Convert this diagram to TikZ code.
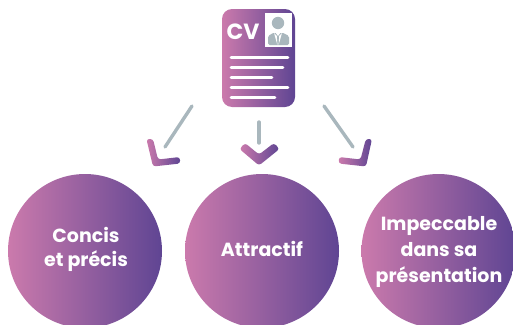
\documentclass[tikz,border=0pt]{standalone}
\usepackage{fontspec}
\setmainfont{Poppins}
\definecolor{gL}{HTML}{CB7AAC}
\definecolor{gR}{HTML}{5F4593}
\definecolor{grayline}{HTML}{A9B7BD}
\tikzset{
  gradfill/.style={left color=gL,right color=gR,middle color=gL!50!gR,draw=none},
  bubble/.style={circle,gradfill,minimum size=154pt,inner sep=0pt,outer sep=0pt},
  bubbletext/.style={text=white,font=\fontsize{19}{26}\selectfont\bfseries,align=center,inner sep=0pt},
  link/.style={draw=grayline,line width=3.4pt,line cap=round},
  chev/.style={gradfill,rounded corners=2.8pt},
  cvline/.style={draw=white,line width=2.6pt,line cap=round}
}
\begin{document}
\begin{tikzpicture}[x=1pt,y=-1pt]
\useasboundingbox (0,0) rectangle (513,324);
\clip (0,0) rectangle (513,324);
% circles
\node[bubble] (c1) at (85,251) {};
\node[bubble] (c2) at (262,251) {};
\node[bubble] (c3) at (438.5,251) {};
\node[bubbletext] (t1) at (86,249) {Concis\\[-2pt]et précis};
\node[bubbletext] (t2) at (262,248.5) {Attractif};
\node[bubbletext] (t3) at (439,252) {Impeccable\\dans sa\\présentation};
% CV card
\node[gradfill,rounded corners=10pt,minimum width=73pt,minimum height=98pt,inner sep=0pt] (cv) at (258.5,58) {};
\node[text=white,font=\fontsize{22}{22}\selectfont\bfseries,inner sep=0pt] (cvt) at (243,32) {CV};
\node[fill=white,minimum width=27pt,minimum height=34pt,inner sep=0pt] (photo) at (278.5,30) {};
\fill[grayline] (278,23) circle (6.2pt);
\fill[grayline,rounded corners=1.5pt] (268,45) -- (268,36) -- (274,32.5) -- (278,34) -- (282,32.5) -- (289,36) -- (289,45) -- cycle;
\fill[white] (275.5,32.5) -- (280.5,32.5) -- (278,36) -- cycle;
\fill[white] (276.8,36) -- (274,33) -- (277.4,45) -- cycle;
\fill[white] (279.2,36) -- (282,33) -- (278.6,45) -- cycle;
\draw[cvline] (231,57.5) -- (288,57.5);
\draw[cvline] (231,67.5) -- (283,67.5);
\draw[cvline] (231,77.5) -- (272,77.5);
\draw[cvline] (231,87.5) -- (288,87.5);
\draw[cvline] (231,97.5) -- (275,97.5);
% connectors
\coordinate (a1s) at (192,106);
\coordinate (a1e) at (165,147);
\coordinate (a2s) at (259,122);
\coordinate (a2e) at (259,143);
\coordinate (a3s) at (324,106);
\coordinate (a3e) at (353,147);
\draw[link] (a1s) -- (a1e);
\draw[link] (a2s) -- (a2e);
\draw[link] (a3s) -- (a3e);
% chevrons
\shade[chev] (146.4,139) -- (153,139) -- (158,159.5) -- (179.8,157) -- (180.2,163.5) -- (153,166.5) -- cycle;
\shade[chev] (245,143) -- (259,154.5) -- (274,143) -- (279.5,149) -- (259,165.5) -- (239.5,149) -- cycle;
\shade[chev] (372,139) -- (365.8,139) -- (360.5,159.5) -- (339,157) -- (338.6,163.5) -- (366,166.5) -- cycle;
\end{tikzpicture}
\end{document}
